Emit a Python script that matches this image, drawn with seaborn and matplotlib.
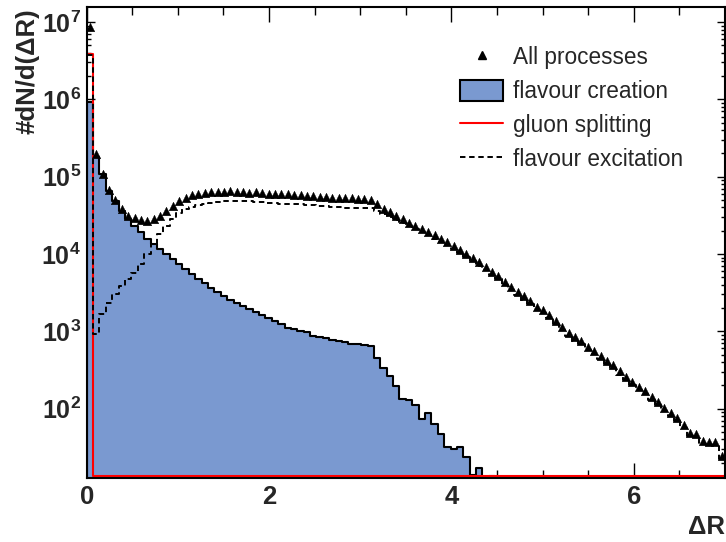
import numpy as np
import pandas as pd
import matplotlib
matplotlib.use("Agg")
import matplotlib.pyplot as plt
from matplotlib.lines import Line2D
from matplotlib.patches import Patch
from matplotlib.ticker import FixedLocator, NullFormatter, MultipleLocator, LogLocator
import seaborn as sns

# ---------------- data (100 bins of width 0.07 on 0..7) ----------------
bin_edges = list(np.round(np.linspace(0.0, 7.0, 101), 4))

# All processes (triangles), log10 of dN/d(dR)
all_log10 = [
    6.93, 5.29, 5.03, 4.83, 4.70, 4.58, 4.49, 4.46, 4.44, 4.43,
    4.45, 4.49, 4.56, 4.62, 4.69, 4.73, 4.76, 4.78, 4.79, 4.80,
    4.80, 4.80, 4.81, 4.80, 4.80, 4.79, 4.80, 4.79, 4.78, 4.78,
    4.77, 4.77, 4.76, 4.76, 4.75, 4.75, 4.74, 4.74, 4.73, 4.73,
    4.72, 4.72, 4.71, 4.71, 4.70, 4.64, 4.58, 4.54, 4.49, 4.45,
    4.40, 4.36, 4.32, 4.28, 4.24, 4.19, 4.15, 4.10, 4.05, 4.00,
    3.95, 3.89, 3.83, 3.77, 3.71, 3.64, 3.57, 3.51, 3.45, 3.39,
    3.32, 3.28, 3.21, 3.13, 3.06, 2.98, 2.92, 2.88, 2.80, 2.74,
    2.68, 2.62, 2.57, 2.48, 2.41, 2.35, 2.28, 2.23, 2.15, 2.08,
    2.01, 1.94, 1.88, 1.79, 1.69, 1.67, 1.58, 1.57, 1.57, 1.39,
]

# flavour creation (filled histogram), log10; None = empty bin
fc_log10 = [
    5.96, 5.26, 5.03, 4.82, 4.69, 4.56, 4.45, 4.36, 4.28, 4.20,
    4.13, 4.07, 4.00, 3.93, 3.87, 3.80, 3.74, 3.68, 3.62, 3.56,
    3.51, 3.46, 3.41, 3.37, 3.33, 3.29, 3.25, 3.21, 3.17, 3.13,
    3.10, 3.04, 3.03, 3.00, 2.99, 2.94, 2.92, 2.91, 2.89, 2.87,
    2.86, 2.84, 2.83, 2.82, 2.81, 2.66, 2.52, 2.42, 2.29, 2.12,
    2.11, 2.04, 1.86, 1.94, 1.80, 1.67, 1.50, 1.48, 1.50, 1.38,
    1.14, 1.23, None, 1.13, None, None, None, None, None, None,
    None, None, None, None, None, None, None, None, None, None,
    None, None, None, None, None, None, None, None, None, None,
    None, None, None, None, None, None, None, None, None, None,
]

# flavour excitation (dashed), log10
fe_log10 = [
    6.574, 2.96, 3.22, 3.37, 3.48, 3.59, 3.68, 3.76, 3.87, 4.00,
    4.13, 4.26, 4.36, 4.45, 4.53, 4.58, 4.61, 4.63, 4.65, 4.66,
    4.67, 4.68, 4.69, 4.69, 4.68, 4.68, 4.67, 4.67, 4.66, 4.66,
    4.65, 4.65, 4.64, 4.64, 4.63, 4.63, 4.62, 4.62, 4.61, 4.61,
    4.60, 4.60, 4.60, 4.59, 4.59, 4.56, 4.52, 4.48, 4.44, 4.40,
    4.36, 4.32, 4.28, 4.24, 4.20, 4.15, 4.11, 4.06, 4.01, 3.96,
    3.91, 3.85, 3.79, 3.73, 3.67, 3.60, 3.53, 3.47, 3.41, 3.35,
    3.28, 3.24, 3.17, 3.09, 3.02, 2.94, 2.88, 2.84, 2.76, 2.70,
    2.64, 2.58, 2.53, 2.44, 2.37, 2.31, 2.24, 2.19, 2.11, 2.04,
    1.97, 1.90, 1.84, 1.75, 1.65, 1.63, 1.54, 1.53, 1.53, 1.35,
]

# gluon splitting (red): only the first bin is filled
gs_counts = np.r_[3.86e6, np.zeros(99)]

x_ticks = [0, 2, 4, 6]
x_ticklabels = ["0", "2", "4", "6"]
y_ticks = [1e2, 1e3, 1e4, 1e5, 1e6, 1e7]
y_ticklabels = [r"$\mathbf{10^{2}}$", r"$\mathbf{10^{3}}$", r"$\mathbf{10^{4}}$",
                r"$\mathbf{10^{5}}$", r"$\mathbf{10^{6}}$", r"$\mathbf{10^{7}}$"]
legend_labels = ["All processes", "flavour creation", "gluon splitting", "flavour excitation"]

# ---------------- derived table ----------------
edges_arr = np.array(bin_edges)
centers = 0.5 * (edges_arr[:-1] + edges_arr[1:])
YMIN, YMAX = 12.65, 1.58e7
XMIN, XMAX = 0.0, 7.0

df = pd.DataFrame({
    "dR": centers,
    "all": 10.0 ** np.array(all_log10, dtype=float),
    "fc": np.nan_to_num(10.0 ** np.array(fc_log10, dtype=float), nan=0.0),
    "fe": 10.0 ** np.array(fe_log10, dtype=float),
    "gs": gs_counts,
})
# empty gluon-splitting bins are shown on the axis floor, as ROOT does
df["gs_draw"] = np.where(df["gs"] > 0, df["gs"], YMIN * 1.05)

# ---------------- style ----------------
sns.set_style("ticks")
plt.rcParams["font.family"] = ["Liberation Sans", "DejaVu Sans"]
plt.rcParams["mathtext.fontset"] = "custom"
plt.rcParams["mathtext.rm"] = "Liberation Sans"
plt.rcParams["mathtext.bf"] = "Liberation Sans:bold"
plt.rcParams["axes.linewidth"] = 1.5

BLUE = "#7a99d0"
DASH = (0, (2.8, 1.9))

fig = plt.figure(figsize=(7.26, 5.42), dpi=100)
W, H = 726.0, 542.0
ax_l, ax_r, ax_t, ax_b = 86.7, 725.0, 6.7, 478.0
ax = fig.add_axes([ax_l / W, 1 - ax_b / H, (ax_r - ax_l) / W, (ax_b - ax_t) / H])
ax.set_yscale("log")

# flavour creation: filled step histogram
sns.histplot(data=df, x="dR", weights="fc", bins=bin_edges, element="step", fill=True,
             facecolor=BLUE, edgecolor="black", linewidth=1.5, alpha=1.0,
             ax=ax, zorder=1)

# gluon splitting: red step line
sns.histplot(data=df, x="dR", weights="gs_draw", bins=bin_edges, element="step", fill=False,
             color="red", linewidth=1.5, ax=ax, zorder=2)

# flavour excitation: dashed step line
sns.histplot(data=df, x="dR", weights="fe", bins=bin_edges, element="step", fill=False,
             color="black", linewidth=1.4, linestyle=DASH, ax=ax, zorder=3)

# all processes: triangles
sns.scatterplot(data=df, x="dR", y="all", marker="^", s=38, color="black",
                edgecolor="black", linewidth=0.3, ax=ax, zorder=4, legend=False)

ax.set_xlim(XMIN, XMAX)
ax.set_ylim(YMIN, YMAX)

# ticks
ax.xaxis.set_major_locator(FixedLocator(x_ticks))
ax.set_xticklabels(x_ticklabels)
ax.xaxis.set_minor_locator(MultipleLocator(0.5))
ax.yaxis.set_major_locator(FixedLocator(y_ticks))
ax.set_yticklabels(y_ticklabels)
ax.yaxis.set_minor_locator(LogLocator(base=10, subs=np.arange(2, 10)))
ax.yaxis.set_minor_formatter(NullFormatter())

ax.tick_params(axis="both", which="both", direction="in", top=True, right=True,
               color="black", width=1.0)
ax.tick_params(axis="x", which="major", length=11, pad=5)
ax.tick_params(axis="x", which="minor", length=5.5)
ax.tick_params(axis="y", which="major", length=6, pad=4)
ax.tick_params(axis="y", which="minor", length=3)
for lab in ax.get_xticklabels():
    lab.set_fontsize(18.5)
    lab.set_fontweight("bold")
for lab in ax.get_yticklabels():
    lab.set_fontsize(18)

for sp in ax.spines.values():
    sp.set_linewidth(1.5)
    sp.set_color("black")
    sp.set_zorder(6)

# axis titles
ax.set_xlabel("\u0394R", fontsize=18.5, fontweight="bold", loc="right")
ax.xaxis.set_label_coords(1.0, -0.079)
ax.xaxis.label.set_va("top")
ax.xaxis.label.set_ha("right")
ax.set_ylabel("#dN/d(\u0394R)", fontsize=18.5, fontweight="bold", loc="top")
ax.yaxis.label.set_rotation_mode("default")
ax.yaxis.label.set_va("top")
ax.yaxis.label.set_ha("center")
ax.yaxis.set_label_coords((27 - ax_l) / (ax_r - ax_l), 1.0 - 1.5 / (ax_b - ax_t))

ax.grid(False)

# legend
handles = [
    Line2D([], [], marker="^", color="black", linestyle="None", markersize=6.0),
    Patch(facecolor=BLUE, edgecolor="black", linewidth=1.5),
    Line2D([], [], color="red", linewidth=1.5),
    Line2D([], [], color="black", linewidth=1.4, linestyle=DASH),
]
leg = ax.legend(handles, legend_labels, loc="upper left",
                bbox_to_anchor=(460 / W, 1 - 46 / H), bbox_transform=fig.transFigure,
                frameon=False, fontsize=16.3, handlelength=1.9, handleheight=1.05,
                handletextpad=0.45, labelspacing=0.47, borderpad=0, borderaxespad=0)

fig.savefig("out.png", dpi=100)
